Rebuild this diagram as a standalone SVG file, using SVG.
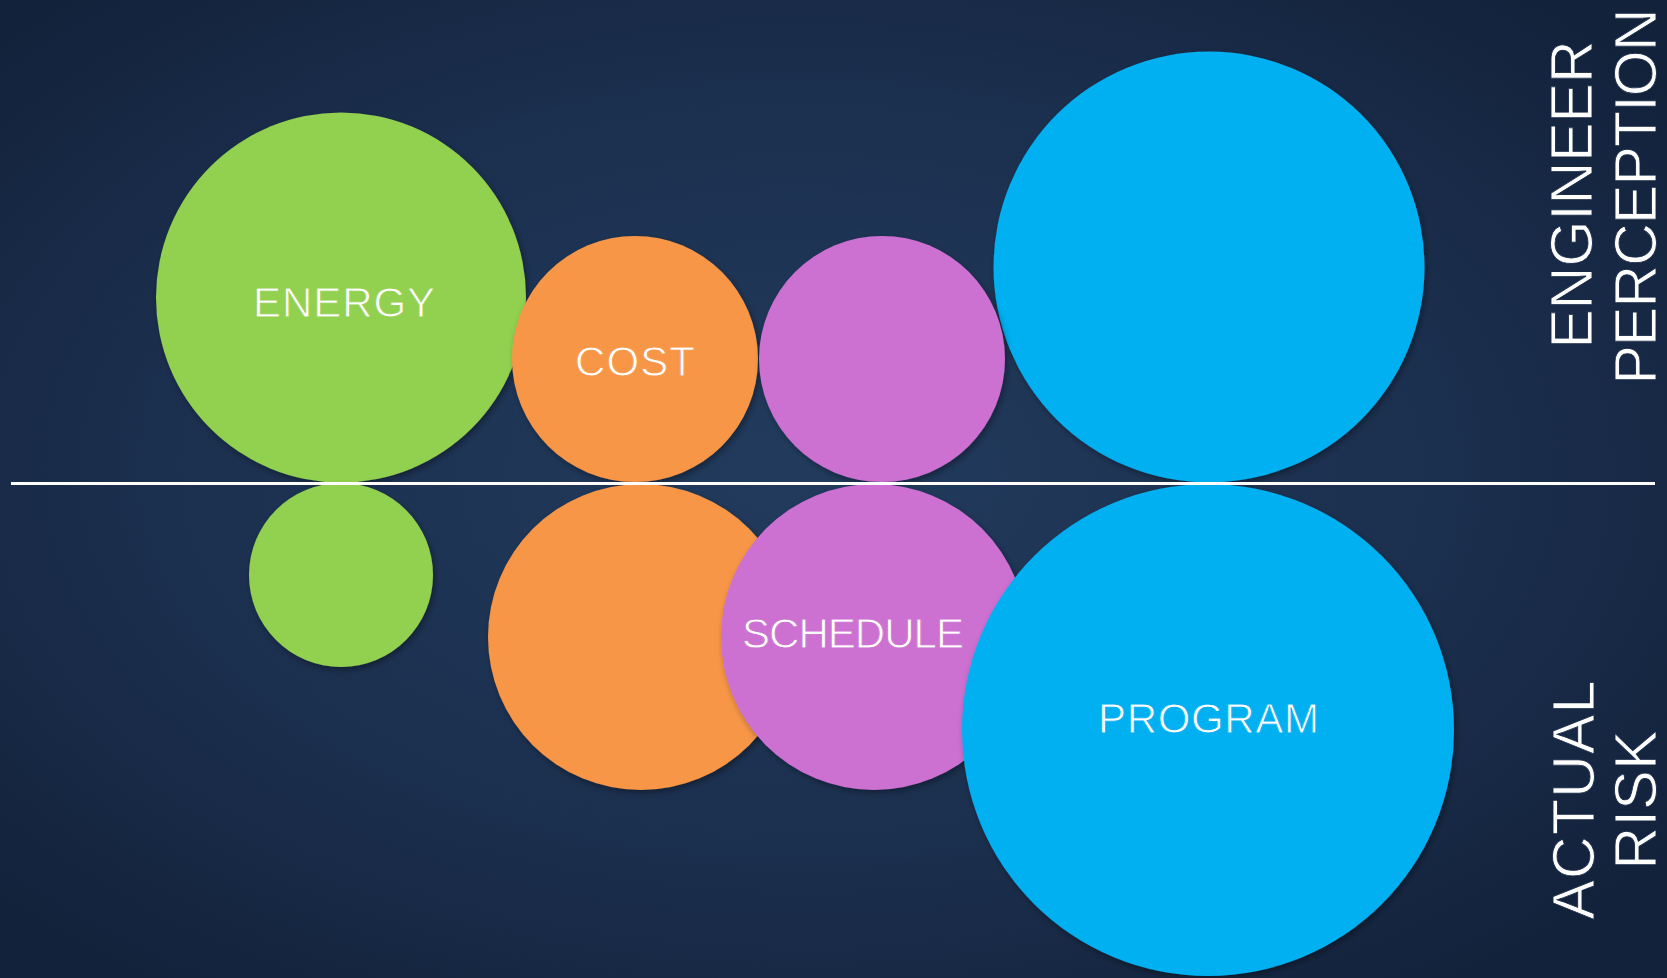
<svg xmlns="http://www.w3.org/2000/svg" width="1667" height="978" viewBox="0 0 1667 978">
  <defs>
    <radialGradient id="bg" cx="48%" cy="48%" r="65%">
      <stop offset="0" stop-color="#223b5d"/>
      <stop offset="0.6" stop-color="#1b2f4e"/>
      <stop offset="1" stop-color="#13223b"/>
    </radialGradient>
    <filter id="sh" x="-10%" y="-10%" width="125%" height="125%">
      <feDropShadow dx="2" dy="3" stdDeviation="3" flood-color="#000" flood-opacity="0.35"/>
    </filter>
  </defs>
  <style>
    .lbl { font-family: "Liberation Sans", Arial, sans-serif; font-weight: normal; fill: #ffffff; text-anchor: middle; stroke-width: 0.9px; }
    .in { font-size: 42px; }
    .side { font-size: 59px; stroke: #172a46; }
    .green { fill: #92d050; }
    .orange { fill: #f79646; }
    .purple { fill: #cc70d1; }
    .blue { fill: #00b0f0; }
    circle { filter: url(#sh); }
  </style>
  <rect x="0" y="0" width="1667" height="978" fill="url(#bg)"/>

  <g id="energy-perception"><circle class="green" cx="341" cy="297.5" r="185"/><text class="lbl in" x="344" y="317" textLength="182" lengthAdjust="spacing" stroke="#92d050">ENERGY</text></g>
  <g id="program-perception"><circle class="blue" cx="1209" cy="267" r="215.5"/></g>
  <g id="cost-perception"><circle class="orange" cx="635" cy="359" r="123"/><text class="lbl in" x="635" y="376" textLength="120" lengthAdjust="spacing" stroke="#f79646">COST</text></g>
  <g id="schedule-perception"><circle class="purple" cx="882" cy="359" r="123"/></g>

  <g id="energy-actual"><circle class="green" cx="341" cy="575" r="92"/></g>
  <g id="cost-actual"><circle class="orange" cx="641" cy="637" r="153"/></g>
  <g id="schedule-actual"><circle class="purple" cx="874" cy="637" r="153"/><text class="lbl in" x="853" y="648" textLength="222" lengthAdjust="spacing" stroke="#cc70d1">SCHEDULE</text></g>
  <g id="program-actual"><circle class="blue" cx="1208" cy="730" r="246"/><text class="lbl in" x="1208.5" y="733" textLength="221" lengthAdjust="spacing" stroke="#00b0f0">PROGRAM</text></g>

  <g id="connectors">
    <line x1="11" y1="483.5" x2="1655" y2="483.5" stroke="#ffffff" stroke-width="3"/>
  </g>

  <g id="label-engineer-perception">
    <text class="lbl side" transform="translate(1592,194.5) rotate(-90)" textLength="308" lengthAdjust="spacing">ENGINEER</text>
    <text class="lbl side" transform="translate(1656,196.5) rotate(-90)" textLength="376" lengthAdjust="spacing">PERCEPTION</text>
  </g>
  <g id="label-actual-risk">
    <text class="lbl side" transform="translate(1594,800) rotate(-90)" textLength="239" lengthAdjust="spacing">ACTUAL</text>
    <text class="lbl side" transform="translate(1656,800) rotate(-90)" textLength="139" lengthAdjust="spacing">RISK</text>
  </g>
</svg>
